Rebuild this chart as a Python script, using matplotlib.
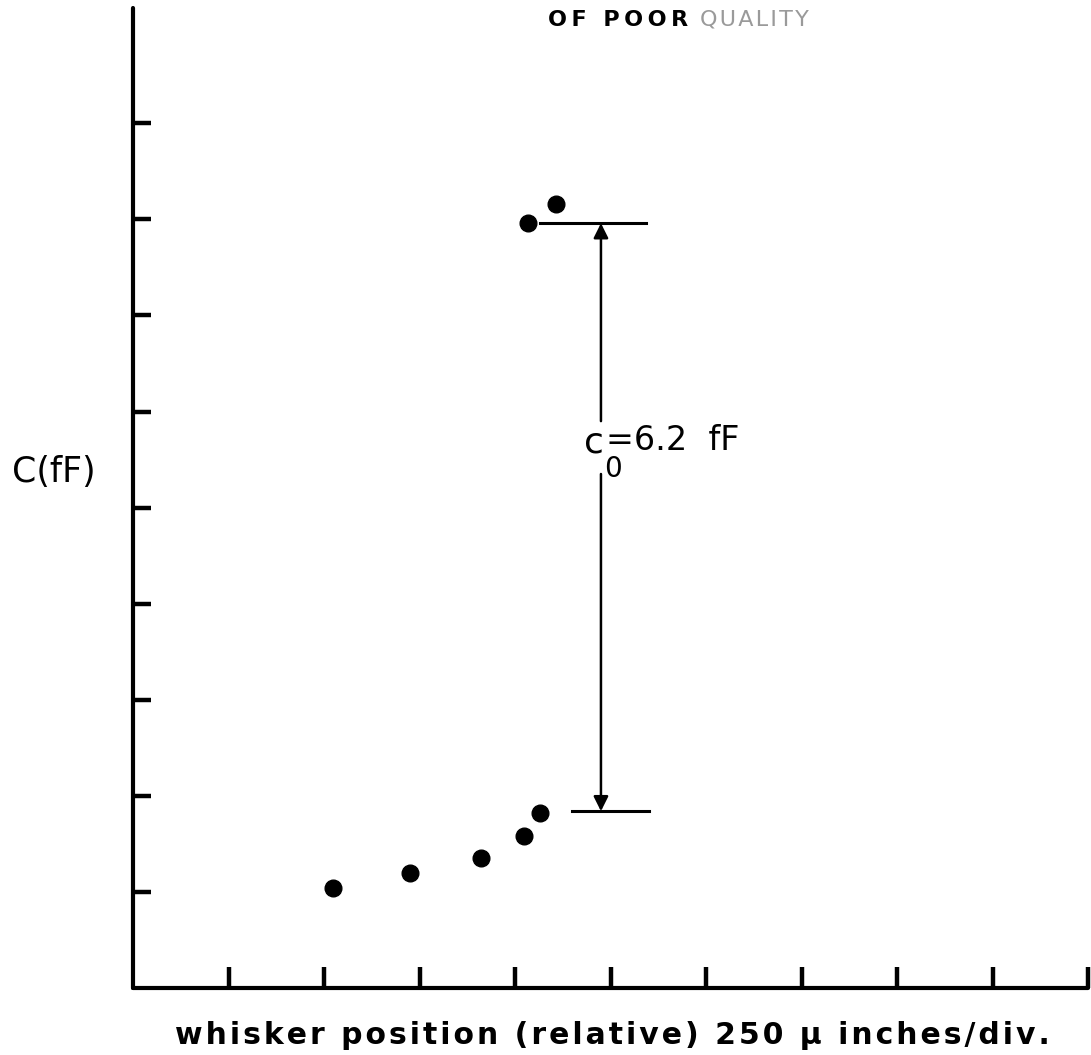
import matplotlib
matplotlib.use("Agg")
import matplotlib.pyplot as plt

# Data (in axis divisions)
x_low = [2.09, 2.90, 3.64, 4.09, 4.26]
y_low = [1.04, 1.20, 1.35, 1.58, 1.82]
x_high = [4.14, 4.43]
y_high = [7.96, 8.16]
x_ticks = [1, 2, 3, 4, 5, 6, 7, 8, 9, 10]
y_ticks = [1, 2, 3, 4, 5, 6, 7, 8, 9]
c0_top = 7.96
c0_bottom = 1.84
c0_x = 4.90
xlabel = "whisker position (relative) 250 \u03bc inches/div."
ylabel = "C(fF)"


def spaced(s, sep="\u200a"):
    return sep.join(s)


W, H = 1091, 1055
fig = plt.figure(figsize=(W / 100, H / 100), dpi=100)
left_px, right_px, bottom_px, top_px = 133, 1088, 988, 8
ax = fig.add_axes([left_px / W, (H - bottom_px) / H,
                   (right_px - left_px) / W, (bottom_px - top_px) / H])
ax.set_xlim(0, 10)
ax.set_ylim(0, 10.2)
for s in ["top", "right"]:
    ax.spines[s].set_visible(False)
for s in ["left", "bottom"]:
    ax.spines[s].set_linewidth(3)
    ax.spines[s].set_capstyle("round")
ax.set_xticks(x_ticks)
ax.set_yticks(y_ticks)
ax.tick_params(axis="x", direction="in", length=15, width=3.2, labelbottom=False)
ax.tick_params(axis="y", direction="in", length=13, width=3.2, labelleft=False)

ax.plot(x_low + x_high, y_low + y_high, "o", color="black", markersize=12, clip_on=False)

# reference lines
ax.plot([4.26, 5.37], [c0_top, c0_top], color="black", lw=2.2)
ax.plot([4.60, 5.40], [c0_bottom, c0_bottom], color="black", lw=2.2)
# double arrow, broken by label
ax.annotate("", xy=(c0_x, c0_top), xytext=(c0_x, 5.9),
            arrowprops=dict(arrowstyle="-|>", color="black", lw=1.8, mutation_scale=22,
                            shrinkA=0, shrinkB=0))
ax.annotate("", xy=(c0_x, c0_bottom), xytext=(c0_x, 5.35),
            arrowprops=dict(arrowstyle="-|>", color="black", lw=1.8, mutation_scale=22,
                            shrinkA=0, shrinkB=0))
ax.text(4.72, 5.68, "c", fontsize=26, va="center", ha="left", family="DejaVu Sans")
ax.text(4.93, 5.40, "0", fontsize=20, va="center", ha="left", family="DejaVu Sans")
ax.text(4.95, 5.70, "=6.2  fF", fontsize=24, va="center", ha="left", family="DejaVu Sans")

fig.text(12 / W, 1 - 472 / H, ylabel, fontsize=25, va="center", ha="left", family="DejaVu Sans")
fig.text(612 / W, 1 - 1035 / H, spaced(xlabel), fontsize=21.5, va="center", ha="center",
         family="DejaVu Sans", fontweight="bold")

fig.text(548 / W, 1 - 20 / H, spaced("OF POOR", "\u2009"), fontsize=16, va="center", ha="left",
         family="DejaVu Sans", fontweight="bold")
fig.text(700 / W, 1 - 20 / H, spaced("QUALITY"), fontsize=16, va="center", ha="left",
         family="DejaVu Sans", color="#9a9a9a")

fig.savefig("out.png", dpi=100)
